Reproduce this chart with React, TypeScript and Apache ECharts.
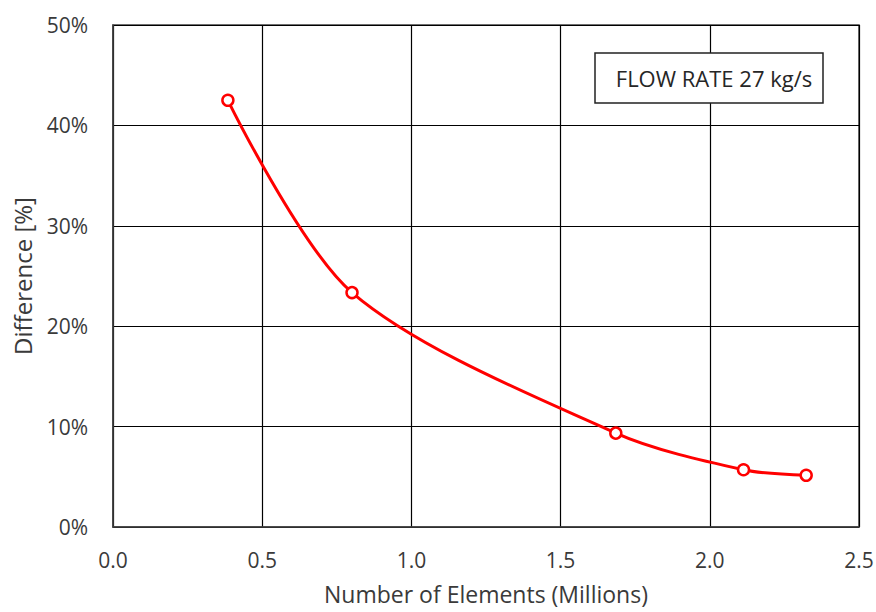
import React, { useEffect, useRef } from "react";
import * as echarts from "echarts";

const elementsMillions = [0.385, 0.801, 1.685, 2.113, 2.323];
const differencePct = [42.5, 23.35, 9.35, 5.7, 5.15];
const xTicks = [0, 0.5, 1.0, 1.5, 2.0, 2.5];
const yTicks = [0, 10, 20, 30, 40, 50];
const annotation = "FLOW RATE 27 kg/s";
const xTitle = "Number of Elements (Millions)";
const yTitle = "Difference [%]";

const FONT = "'Open Sans', 'Noto Sans', sans-serif";
const TXT = "#3a3a3a";

export default function App() {
  const ref = useRef<HTMLDivElement>(null);
  useEffect(() => {
    if (!ref.current) return;
    const chart = echarts.init(ref.current, undefined, { renderer: "svg" });
    chart.setOption({
      animation: false,
      backgroundColor: "#ffffff",
      grid: {
        left: 113,
        right: 17,
        top: 25,
        bottom: 85,
        outerBoundsMode: "none",
        containLabel: false,
        show: true,
        borderColor: "#404040",
        borderWidth: 1.5,
      },
      xAxis: {
        type: "value",
        min: xTicks[0],
        max: xTicks[xTicks.length - 1],
        interval: 0.5,
        name: xTitle,
        nameLocation: "middle",
        nameGap: 55,
        nameTextStyle: { fontFamily: FONT, fontSize: 23, color: TXT },
        axisLine: { show: true, lineStyle: { color: "#404040", width: 1.5 } },
        axisTick: { show: false },
        axisLabel: {
          fontFamily: FONT,
          fontSize: 21,
          color: TXT,
          margin: 22,
          formatter: (v: number) => v.toFixed(1),
        },
        splitLine: { show: true, lineStyle: { color: "#000000", width: 1.2 } },
      },
      yAxis: {
        type: "value",
        min: yTicks[0],
        max: yTicks[yTicks.length - 1],
        interval: 10,
        name: yTitle,
        nameLocation: "middle",
        nameGap: 79,
        nameRotate: 90,
        nameTextStyle: { fontFamily: FONT, fontSize: 24, color: TXT },
        axisLine: { show: true, lineStyle: { color: "#404040", width: 1.5 } },
        axisTick: { show: false },
        axisLabel: {
          fontFamily: FONT,
          fontSize: 21,
          color: TXT,
          margin: 25,
          formatter: (v: number) => v + "%",
        },
        splitLine: { show: true, lineStyle: { color: "#000000", width: 1.2 } },
      },
      graphic: [
        {
          type: "rect",
          shape: { x: 595, y: 53, width: 228, height: 50 },
          style: { fill: "#ffffff", stroke: "#222222", lineWidth: 1.5 },
          z: 10,
        },
        {
          type: "text",
          x: 714,
          y: 78,
          style: {
            text: annotation,
            fontFamily: FONT,
            fontSize: 22,
            fill: "#262626",
            align: "center",
            verticalAlign: "middle",
          },
          z: 11,
        },
      ],
      series: [
        {
          type: "line",
          data: elementsMillions.map((x, i) => [x, differencePct[i]]),
          smooth: 0.3,
          symbol: "circle",
          symbolSize: 11,
          showAllSymbol: true,
          lineStyle: { color: "#ff0000", width: 3 },
          itemStyle: { color: "#ffffff", borderColor: "#ff0000", borderWidth: 2.5 },
          z: 5,
        },
      ],
    });
    return () => chart.dispose();
  }, []);
  return <div ref={ref} style={{ width: 876, height: 612, position: "absolute", left: 0, top: 0 }} />;
}
